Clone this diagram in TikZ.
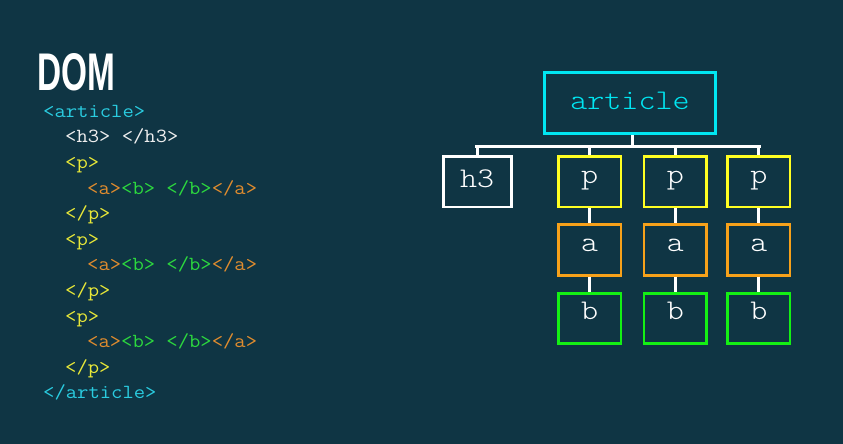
\documentclass[tikz,border=0pt]{standalone}
\usepackage{fontspec}
\newfontfamily\cmono[FakeStretch=1.14]{Latin Modern Mono Light}
\newfontfamily\codemono[FakeStretch=1.1]{Latin Modern Mono}
\newfontfamily\domfont[FakeStretch=0.63]{Liberation Sans}
\definecolor{bg}{HTML}{0F3544}
\definecolor{codecyan}{HTML}{2ACCE0}
\definecolor{codeyellow}{HTML}{E8E838}
\definecolor{codeorange}{HTML}{E08C2E}
\definecolor{codegreen}{HTML}{2CD83E}
\definecolor{codewhite}{HTML}{EEEEEE}
\definecolor{boxcyan}{HTML}{00E6F2}
\definecolor{boxyellow}{HTML}{FFFF22}
\definecolor{boxorange}{HTML}{F7A11A}
\definecolor{boxgreen}{HTML}{14F014}
\tikzset{
  codeline/.style={anchor=base west, inner sep=0pt, font=\codemono\fontsize{20}{22}\selectfont},
  treebox/.style={draw, line width=2.8pt, minimum width=62.5pt, minimum height=50.5pt, inner sep=0pt,
     text height=13pt, text depth=10pt, text=white, font=\cmono\fontsize{28.5}{30}\selectfont},
  conn/.style={draw=white, line width=3pt}
}
\begin{document}
\begin{tikzpicture}[x=1pt,y=-1pt]
\fill[bg] (0,0) rectangle (843,444);
\useasboundingbox (0,0) rectangle (843,444);

% title
\node[anchor=base west, inner sep=0pt, text=white, font=\domfont\bfseries\fontsize{53}{55}\selectfont] (dom) at (37.5,90.7) {DOM};

% code
\node[codeline, text=codecyan] (c1) at (43,117.3) {<article>};
\node[codeline, text=codewhite] (c2) at (65,142.9) {<h3> </h3>};
\node[codeline, text=codeyellow] (c3) at (65,168.5) {<p>};
\node[codeline] (c4) at (87,194.1) {\textcolor{codeorange}{<a>}\textcolor{codegreen}{<b> </b>}\textcolor{codeorange}{</a>}};
\node[codeline, text=codeyellow] (c5) at (65,219.7) {</p>};
\node[codeline, text=codeyellow] (c6) at (65,245.3) {<p>};
\node[codeline] (c7) at (87,270.9) {\textcolor{codeorange}{<a>}\textcolor{codegreen}{<b> </b>}\textcolor{codeorange}{</a>}};
\node[codeline, text=codeyellow] (c8) at (65,296.5) {</p>};
\node[codeline, text=codeyellow] (c9) at (65,322.1) {<p>};
\node[codeline] (c10) at (87,347.7) {\textcolor{codeorange}{<a>}\textcolor{codegreen}{<b> </b>}\textcolor{codeorange}{</a>}};
\node[codeline, text=codeyellow] (c11) at (65,373.3) {</p>};
\node[codeline, text=codecyan] (c12) at (43,398.9) {</article>};

% tree
\node[treebox, draw=boxcyan, text=boxcyan, minimum width=171.5pt, minimum height=61pt,
      text height=20pt, text depth=6pt] (article) at (630,102.7) {article};
\node[treebox, draw=white, minimum width=68pt, text height=17pt, text depth=6pt] (h3) at (477.2,181.7) {h3};
\node[treebox, draw=boxyellow] (p1) at (589.7,181.7) {p};
\node[treebox, draw=boxyellow] (p2) at (675.3,181.7) {p};
\node[treebox, draw=boxyellow] (p3) at (758.8,181.7) {p};
\node[treebox, draw=boxorange] (a1) at (589.7,250) {a};
\node[treebox, draw=boxorange] (a2) at (675.3,250) {a};
\node[treebox, draw=boxorange] (a3) at (758.8,250) {a};
\node[treebox, draw=boxgreen] (b1) at (589.7,318.4) {b};
\node[treebox, draw=boxgreen] (b2) at (675.3,318.4) {b};
\node[treebox, draw=boxgreen] (b3) at (758.8,318.4) {b};

\coordinate (busL) at (476.9,146);
\coordinate (busR) at (759.6,146);
\coordinate (artdrop) at (632.3,146);
\draw[conn, line cap=rect] (busL) -- (busR);
\draw[conn] (artdrop) -- (artdrop |- article.south);
\foreach \n in {h3,p1,p2,p3}{
  \draw[conn] (\n.north) -- (\n.north |- busL);
}
\foreach \i in {1,2,3}{
  \draw[conn] (p\i.south) -- (a\i.north);
  \draw[conn] (a\i.south) -- (b\i.north);
}
\end{tikzpicture}
\end{document}
